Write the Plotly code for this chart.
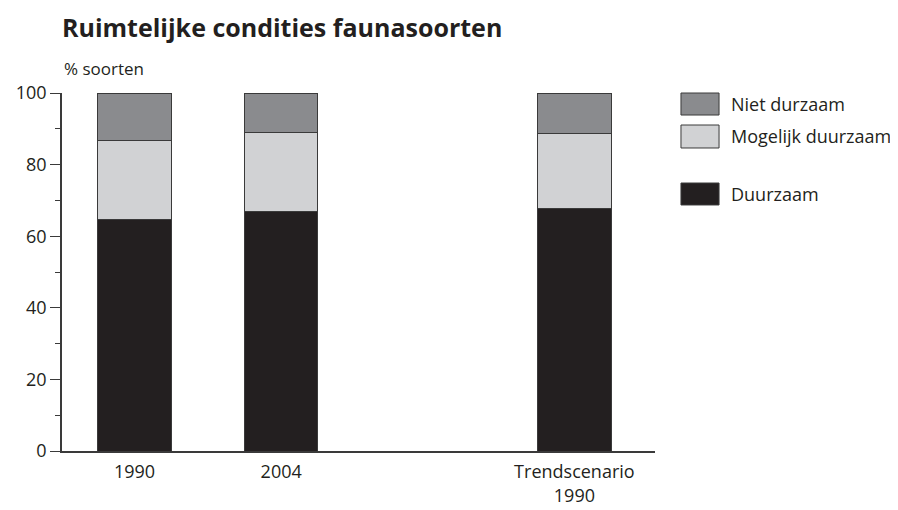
import plotly.graph_objects as go

CATEGORIES = ["1990", "2004", " ", "Trendscenario<br>1990"]
DUURZAAM = [64.7, 66.8, None, 67.7]
MOGELIJK = [21.9, 22.1, None, 21.0]
NIET = [13.4, 11.1, None, 11.3]

SERIES = [
    ("Duurzaam", DUURZAAM, "#231f20"),
    ("Mogelijk duurzaam", MOGELIJK, "#d1d2d4"),
    ("Niet durzaam", NIET, "#8a8b8e"),
]

FONT = "Open Sans"
TXT = "#231f20"
LINE = "#3a3a3a"

fig = go.Figure()
for name, vals, col in SERIES:
    fig.add_trace(go.Bar(
        x=CATEGORIES, y=vals, name=name,
        marker=dict(color=col, line=dict(color=LINE, width=1)),
        showlegend=False,
    ))

# manual legend (large swatches like the reference)
legend_items = [
    ("Niet durzaam", "#8a8b8e", 1.0, 0.9385),
    ("Mogelijk duurzaam", "#d1d2d4", 0.9106, 0.8464),
    ("Duurzaam", "#231f20", 0.7486, 0.6872),
]
shapes = []
annotations = []
for name, col, y1, y0 in legend_items:
    shapes.append(dict(type="rect", xref="paper", yref="paper",
                       x0=1.0438, x1=1.108, y0=y0, y1=y1,
                       fillcolor=col, line=dict(color=LINE, width=1)))
    annotations.append(dict(xref="paper", yref="paper", x=1.1248, y=(y0 + y1) / 2,
                            text=name, showarrow=False, xanchor="left", yanchor="middle",
                            font=dict(family=FONT, size=18, color=TXT)))

annotations.append(dict(xref="paper", yref="paper", x=0, y=1.03, text="% soorten",
                        showarrow=False, xanchor="left", yanchor="bottom",
                        font=dict(family=FONT, size=17, color=TXT)))

fig.update_layout(
    width=898, height=510,
    margin=dict(l=54, r=251, t=85, b=67, autoexpand=False),
    paper_bgcolor="white", plot_bgcolor="white",
    barmode="stack", bargap=0.5,
    title=dict(text="<b>Ruimtelijke condities faunasoorten</b>", x=54 / 898, xanchor="left",
               y=1 - 20 / 510, yanchor="middle",
               font=dict(family=FONT, size=25, color=TXT)),
    font=dict(family=FONT, size=18, color=TXT),
    shapes=shapes, annotations=annotations,
    xaxis=dict(type="category", categoryorder="array", categoryarray=CATEGORIES,
               range=[-0.495, 3.55], showline=True, linecolor=LINE, linewidth=1.5,
               ticks="", showgrid=False, zeroline=False, ticklabelstandoff=4,
               tickfont=dict(family=FONT, size=18, color=TXT)),
    yaxis=dict(range=[0, 100], tickvals=[0, 20, 40, 60, 80, 100],
               showline=True, linecolor=LINE, linewidth=1.5,
               ticks="outside", ticklen=10, tickcolor=LINE, tickwidth=1,
               minor=dict(ticks="outside", ticklen=5, tickcolor=LINE, tickwidth=1,
                          tickvals=[10, 30, 50, 70, 90]),
               showgrid=False, zeroline=False,
               tickfont=dict(family=FONT, size=18, color=TXT)),
)

fig.write_html("out.html")
